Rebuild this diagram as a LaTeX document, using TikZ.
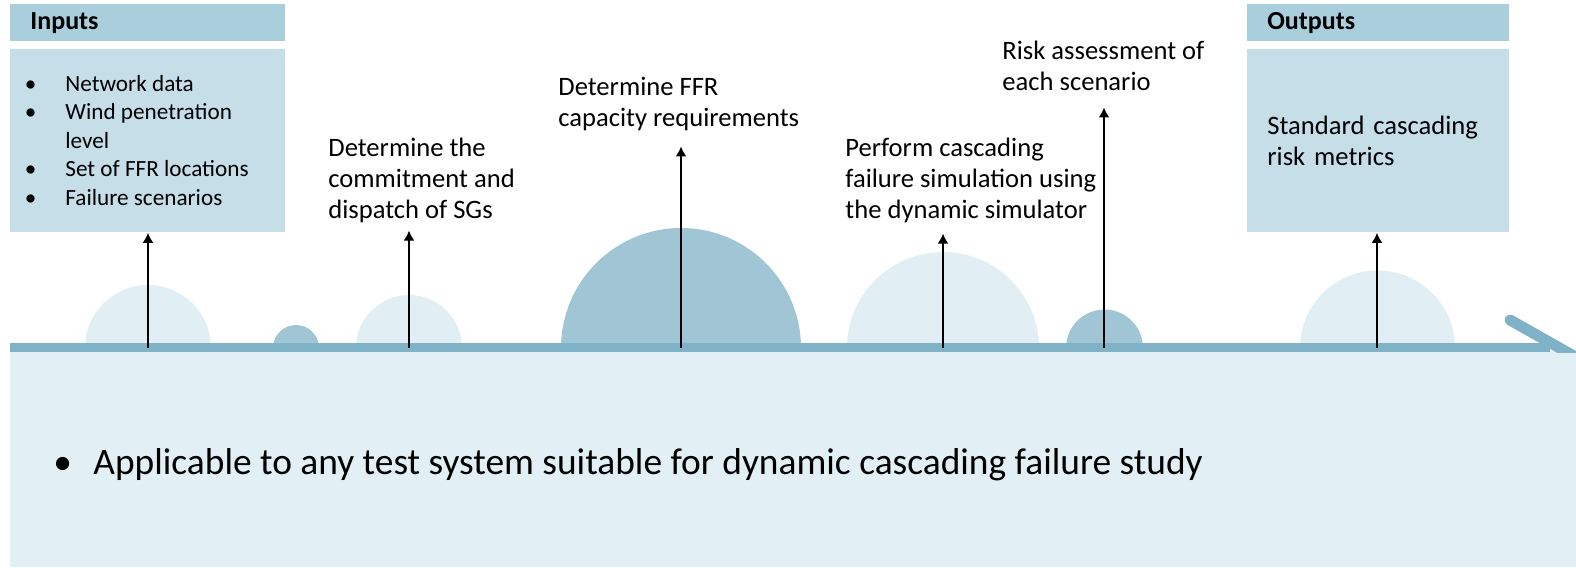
\documentclass[tikz,border=0pt]{standalone}
\usepackage{fontspec}
\setmainfont{Carlito}
\usetikzlibrary{arrows.meta}

\definecolor{headfill}{RGB}{169,206,220}
\definecolor{bodyfill}{RGB}{197,222,231}
\definecolor{barfill}{RGB}{127,178,199}
\definecolor{bumpdark}{RGB}{160,197,213}
\definecolor{bumplight}{RGB}{225,238,243}
\definecolor{panelfill}{RGB}{226,239,244}

\tikzset{
  headbox/.style={fill=headfill, anchor=north west, minimum height=18.5pt,
    inner xsep=10pt, align=left, font=\fontsize{13}{15}\selectfont\bfseries},
  bodybox/.style={fill=bodyfill, anchor=north west, minimum height=91.5pt,
    inner xsep=10pt, align=left},
  steptext/.style={anchor=north west, inner sep=0pt, align=left,
    font=\fontsize{13.3}{15.5}\selectfont},
  flow/.style={-{Latex[length=5pt,width=5.5pt]}, line width=1.4pt},
}

\begin{document}
\begin{tikzpicture}[x=0.5pt,y=-0.5pt]
\useasboundingbox (0,0) rectangle (1576,568);
%% bottom panel
\fill[panelfill] (10,352) rectangle (1576,567);
%% bumps on the time line
\fill[bumplight] (85,348) arc[start angle=180,end angle=360,radius=63] -- cycle;
\fill[bumpdark] (273,348) arc[start angle=180,end angle=360,radius=23] -- cycle;
\fill[bumplight] (356,348) arc[start angle=180,end angle=360,radius=53] -- cycle;
\fill[bumpdark] (561,348) arc[start angle=180,end angle=360,radius=120] -- cycle;
\fill[bumplight] (847,348) arc[start angle=180,end angle=360,radius=96] -- cycle;
\fill[bumpdark] (1066,348) arc[start angle=180,end angle=360,radius=38.5] -- cycle;
\fill[bumplight] (1300,348) arc[start angle=180,end angle=360,radius=77.5] -- cycle;
%% time line
\fill[barfill] (10,343) rectangle (1550,352);
\begin{scope}
  \clip (1480,300) rectangle (1576,352);
  \draw[barfill, line width=5.5pt, line cap=round] (1510,320) -- (1588,364);
\end{scope}
%% inputs / outputs
\node[headbox, minimum width=137.5pt, text width=117.5pt] (inhead) at (10,4) {Inputs};
\node[bodybox, minimum width=137.5pt] (inbody) at (10,49) {};
\node[anchor=north west, inner sep=0pt, font=\fontsize{11.6}{14.25}\selectfont] (inlist) at (24.5,71)
  {\begin{tabular}{@{}p{20.25pt}@{}l@{}}
   \textbullet & Network data\\
   \textbullet & Wind penetration\\
               & level\\
   \textbullet & Set of FFR locations\\
   \textbullet & Failure scenarios
   \end{tabular}};
\node[headbox, minimum width=131pt, text width=111pt] (outhead) at (1247,4) {Outputs};
\node[bodybox, minimum width=131pt, text width=111pt, font=\fontsize{13.3}{15.5}\selectfont] (outbody) at (1247,49)
  {Standard cascading\\risk metrics};
%% steps
\node[steptext] (commit) at (328,138) {Determine the\\commitment and\\dispatch of SGs};
\node[steptext] (ffr) at (558,77) {Determine FFR\\capacity requirements};
\node[steptext] (sim) at (845,138) {Perform cascading\\failure simulation using\\the dynamic simulator};
\node[steptext] (risk) at (1002,41) {Risk assessment of\\each scenario};
%% arrows
\coordinate (s1) at (148,348);
\coordinate (s2) at (409,348);
\coordinate (s3) at (681,348);
\coordinate (s4) at (943,348);
\coordinate (s5) at (1104,348);
\coordinate (s6) at (1377,348);
\draw[flow] (s1) -- (s1 |- inbody.south);
\draw[flow, shorten >=3.5pt] (s2) -- (s2 |- commit.south);
\draw[flow, shorten >=7.5pt] (s3) -- (s3 |- ffr.south);
\draw[flow, shorten >=5pt] (s4) -- (s4 |- sim.south);
\draw[flow, shorten >=8pt] (s5) -- (s5 |- risk.south);
\draw[flow] (s6) -- (s6 |- outbody.south);
%% note
\node[anchor=base west, inner sep=0pt, font=\fontsize{18.7}{22}\selectfont] (note) at (53,474)
  {\makebox[20pt][l]{\textbullet}Applicable to any test system suitable for dynamic cascading failure study};
\end{tikzpicture}
\end{document}
